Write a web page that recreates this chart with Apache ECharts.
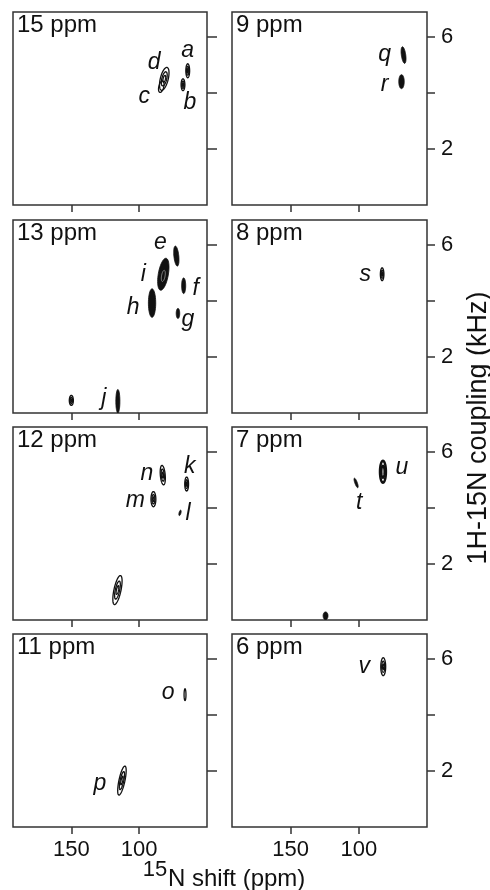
<!DOCTYPE html>
<html>
<head>
<meta charset="utf-8">
<script src="https://cdn.jsdelivr.net/npm/echarts@6/dist/echarts.min.js"></script>
<style>
  html, body { margin: 0; padding: 0; background: #fff; }
  #chart { width: 490px; height: 890px; }
</style>
</head>
<body>
<div id="chart"></div>
<script>
// data ------------------------------------------------------------
var panelTitles = ['15 ppm', '9 ppm', '13 ppm', '8 ppm', '12 ppm', '7 ppm', '11 ppm', '6 ppm'];
var peakNames = [
    ['a', 'b', 'd', 'c'],
    ['q', 'r'],
    ['e', 'i', 'f', 'h', 'g', 'j', ''],
    ['s'],
    ['n', 'k', 'm', 'l', ''],
    ['u', 't', ''],
    ['o', 'p'],
    ['v']
];
// 15N shift (ppm)
var shiftN = [
    [64.2, 67.7, 81.5, 83.7],
    [67.2, 68.7],
    [72.6, 82.2, 67.2, 90.5, 71.4, 115.7, 150.0],
    [82.9],
    [82.6, 65.0, 89.5, 69.9, 116.0],
    [82.3, 102.0, 124.4],
    [66.2, 112.7],
    [82.1]
];
// 1H-15N coupling (kHz)
var couplingJ = [
    [4.80, 4.30, 4.51, 4.23],
    [5.36, 4.41],
    [5.61, 4.96, 4.55, 3.93, 3.56, 0.42, 0.45],
    [4.96],
    [5.18, 4.86, 4.32, 3.83, 1.07],
    [5.30, 4.90, 0.15],
    [4.73, 1.66],
    [5.73]
];
// half widths of the peaks (ppm, kHz)
var widthN = [
    [1.4, 1.4, 2.9, 1.8],
    [1.6, 2.0],
    [1.8, 3.7, 1.5, 2.7, 1.3, 1.5, 1.5],
    [1.3],
    [1.8, 1.4, 1.8, 0.7, 2.6],
    [2.2, 0.9, 1.8],
    [0.7, 2.2],
    [1.8]
];
var widthJ = [
    [0.25, 0.21, 0.42, 0.21],
    [0.30, 0.25],
    [0.36, 0.58, 0.28, 0.51, 0.18, 0.42, 0.18],
    [0.23],
    [0.35, 0.25, 0.27, 0.10, 0.53],
    [0.39, 0.18, 0.14],
    [0.21, 0.53],
    [0.32]
];
var xTicks = [100, 150];
var yTicks = [2, 4, 6];
var yTickLabels = [2, 6];

// look -------------------------------------------------------------
// contour style: 0 single line, 1 nested lines, 2 filled, 3 filled with inner contour, 4 thick nested
var peakKind = [
    [1, 1, 1, 0],
    [2, 2],
    [2, 3, 2, 2, 2, 2, 1],
    [1],
    [1, 1, 1, 2, 1],
    [4, 2, 2],
    [0, 1],
    [1]
];
var peakTilt = [
    [0, 0, 14, 14],
    [-8, 0],
    [-6, 10, 0, 0, 0, 0, 0],
    [0],
    [-5, 0, 0, 15, 12],
    [0, -20, 0],
    [0, 12],
    [0]
];
var labelOffset = {
    a: [0, -20], b: [7, 18], d: [-10, -16], c: [-17, 10],
    q: [-19, 0], r: [-17, 3],
    e: [-16, -13], i: [-20, 0], f: [12, 3], h: [-19, 5], g: [10, 6], j: [-14, -3],
    s: [-17, 0],
    n: [-16, -2], k: [3, -17], m: [-18, 1], l: [8, 1],
    u: [19, -4], t: [3, 20],
    o: [-17, -2], p: [-22, 3],
    v: [-19, 0]
};

var FONT = 'Liberation Sans, Arial, Helvetica, sans-serif';
var INK = '#111';
var colLeft = [13, 232];
var colWidth = [194, 195];
var rowTop = [12, 220, 427, 634];
var rowHeight = 193;

var myChart = echarts.init(document.getElementById('chart'));

function ellipsePts(cx, cy, rx, ry, th) {
    var pts = [];
    for (var k = 0; k < 48; k++) {
        var t = k / 48 * Math.PI * 2;
        var ex = rx * Math.cos(t), ey = ry * Math.sin(t);
        pts.push([cx + ex * Math.cos(th) - ey * Math.sin(th), cy + ex * Math.sin(th) + ey * Math.cos(th)]);
    }
    return pts;
}

function renderPeak(params, api) {
    var p = params.seriesIndex, idx = params.dataIndex;
    var c = api.coord([api.value(0), api.value(1)]);
    var s = api.size([api.value(2), api.value(3)]);
    var th = peakTilt[p][idx] * Math.PI / 180;
    var kind = peakKind[p][idx];
    var children = [];
    if (kind === 2 || kind === 3) {
        children.push({
            type: 'polygon',
            shape: {points: ellipsePts(c[0], c[1], s[0], s[1], th)},
            style: {fill: INK, stroke: INK, lineWidth: 0.8}
        });
        if (kind === 3) {
            children.push({
                type: 'polygon',
                shape: {points: ellipsePts(c[0], c[1] + s[1] * 0.1, s[0] * 0.35, s[1] * 0.35, th)},
                style: {fill: 'none', stroke: '#888', lineWidth: 1}
            });
        }
    } else {
        var levels = kind === 0 ? [1] : (kind === 4 ? [1, 0.55] : [1, 0.62, 0.3]);
        levels.forEach(function (f) {
            children.push({
                type: 'polygon',
                shape: {points: ellipsePts(c[0], c[1], s[0] * f, s[1] * f, th)},
                style: {fill: 'none', stroke: INK, lineWidth: kind === 4 ? 2.4 : 1.3}
            });
        });
    }
    var name = peakNames[p][idx];
    if (name) {
        var off = labelOffset[name] || [0, 0];
        children.push({
            type: 'text',
            x: c[0] + off[0],
            y: c[1] + off[1],
            style: {
                text: name,
                fill: INK,
                font: 'italic 23px ' + FONT,
                textAlign: 'center',
                textVerticalAlign: 'middle'
            }
        });
    }
    return {type: 'group', children: children};
}

var grids = [], xAxes = [], yAxes = [], titles = [], series = [];
panelTitles.forEach(function (title, i) {
    var col = i % 2, row = Math.floor(i / 2);
    grids.push({
        left: colLeft[col], top: rowTop[row], width: colWidth[col], height: rowHeight,
        show: true, borderColor: '#333', borderWidth: 1.5, backgroundColor: '#fff'
    });
    titles.push({
        text: title, left: colLeft[col] + 4, top: rowTop[row] + 1, padding: 0,
        textStyle: {fontSize: 24, fontWeight: 'normal', color: INK, fontFamily: FONT}
    });
    xAxes.push({
        gridIndex: i, type: 'value', min: 50, max: 193, inverse: true,
        axisLine: {show: false}, splitLine: {show: false},
        axisTick: {show: true, length: 7, customValues: xTicks, lineStyle: {color: '#333', width: 1.5}},
        axisLabel: {show: row === 3, customValues: xTicks, fontSize: 22, color: INK, fontFamily: FONT, margin: 12}
    });
    yAxes.push({
        gridIndex: i, type: 'value', position: 'right', min: 0, max: 6.9,
        axisLine: {show: false}, splitLine: {show: false},
        axisTick: {show: true, length: col === 0 ? 10 : 8, customValues: yTicks, lineStyle: {color: '#333', width: 1.5}},
        axisLabel: {show: col === 1, customValues: yTickLabels, fontSize: 22, color: INK, fontFamily: FONT, margin: 14}
    });
    series.push({
        type: 'custom',
        xAxisIndex: i, yAxisIndex: i,
        clip: true,
        renderItem: renderPeak,
        data: shiftN[i].map(function (x, k) {
            return [x, couplingJ[i][k], widthN[i][k], widthJ[i][k]];
        })
    });
});

var option = {
    animation: false,
    backgroundColor: '#fff',
    title: titles,
    grid: grids,
    xAxis: xAxes,
    yAxis: yAxes,
    series: series,
    graphic: [
        {
            type: 'text', x: 155, y: 870,
            style: {text: '15', font: '22px ' + FONT, fill: INK, textAlign: 'center', textVerticalAlign: 'middle'}
        },
        {
            type: 'text', x: 168, y: 879,
            style: {text: 'N shift (ppm)', font: '24px ' + FONT, fill: INK, textAlign: 'left', textVerticalAlign: 'middle'}
        },
        {
            type: 'text', x: 479, y: 428, rotation: Math.PI / 2,
            style: {text: '1H-15N coupling (kHz)', font: '27px ' + FONT, fill: INK, textAlign: 'center', textVerticalAlign: 'middle'}
        }
    ]
};

myChart.setOption(option);
</script>
</body>
</html>
